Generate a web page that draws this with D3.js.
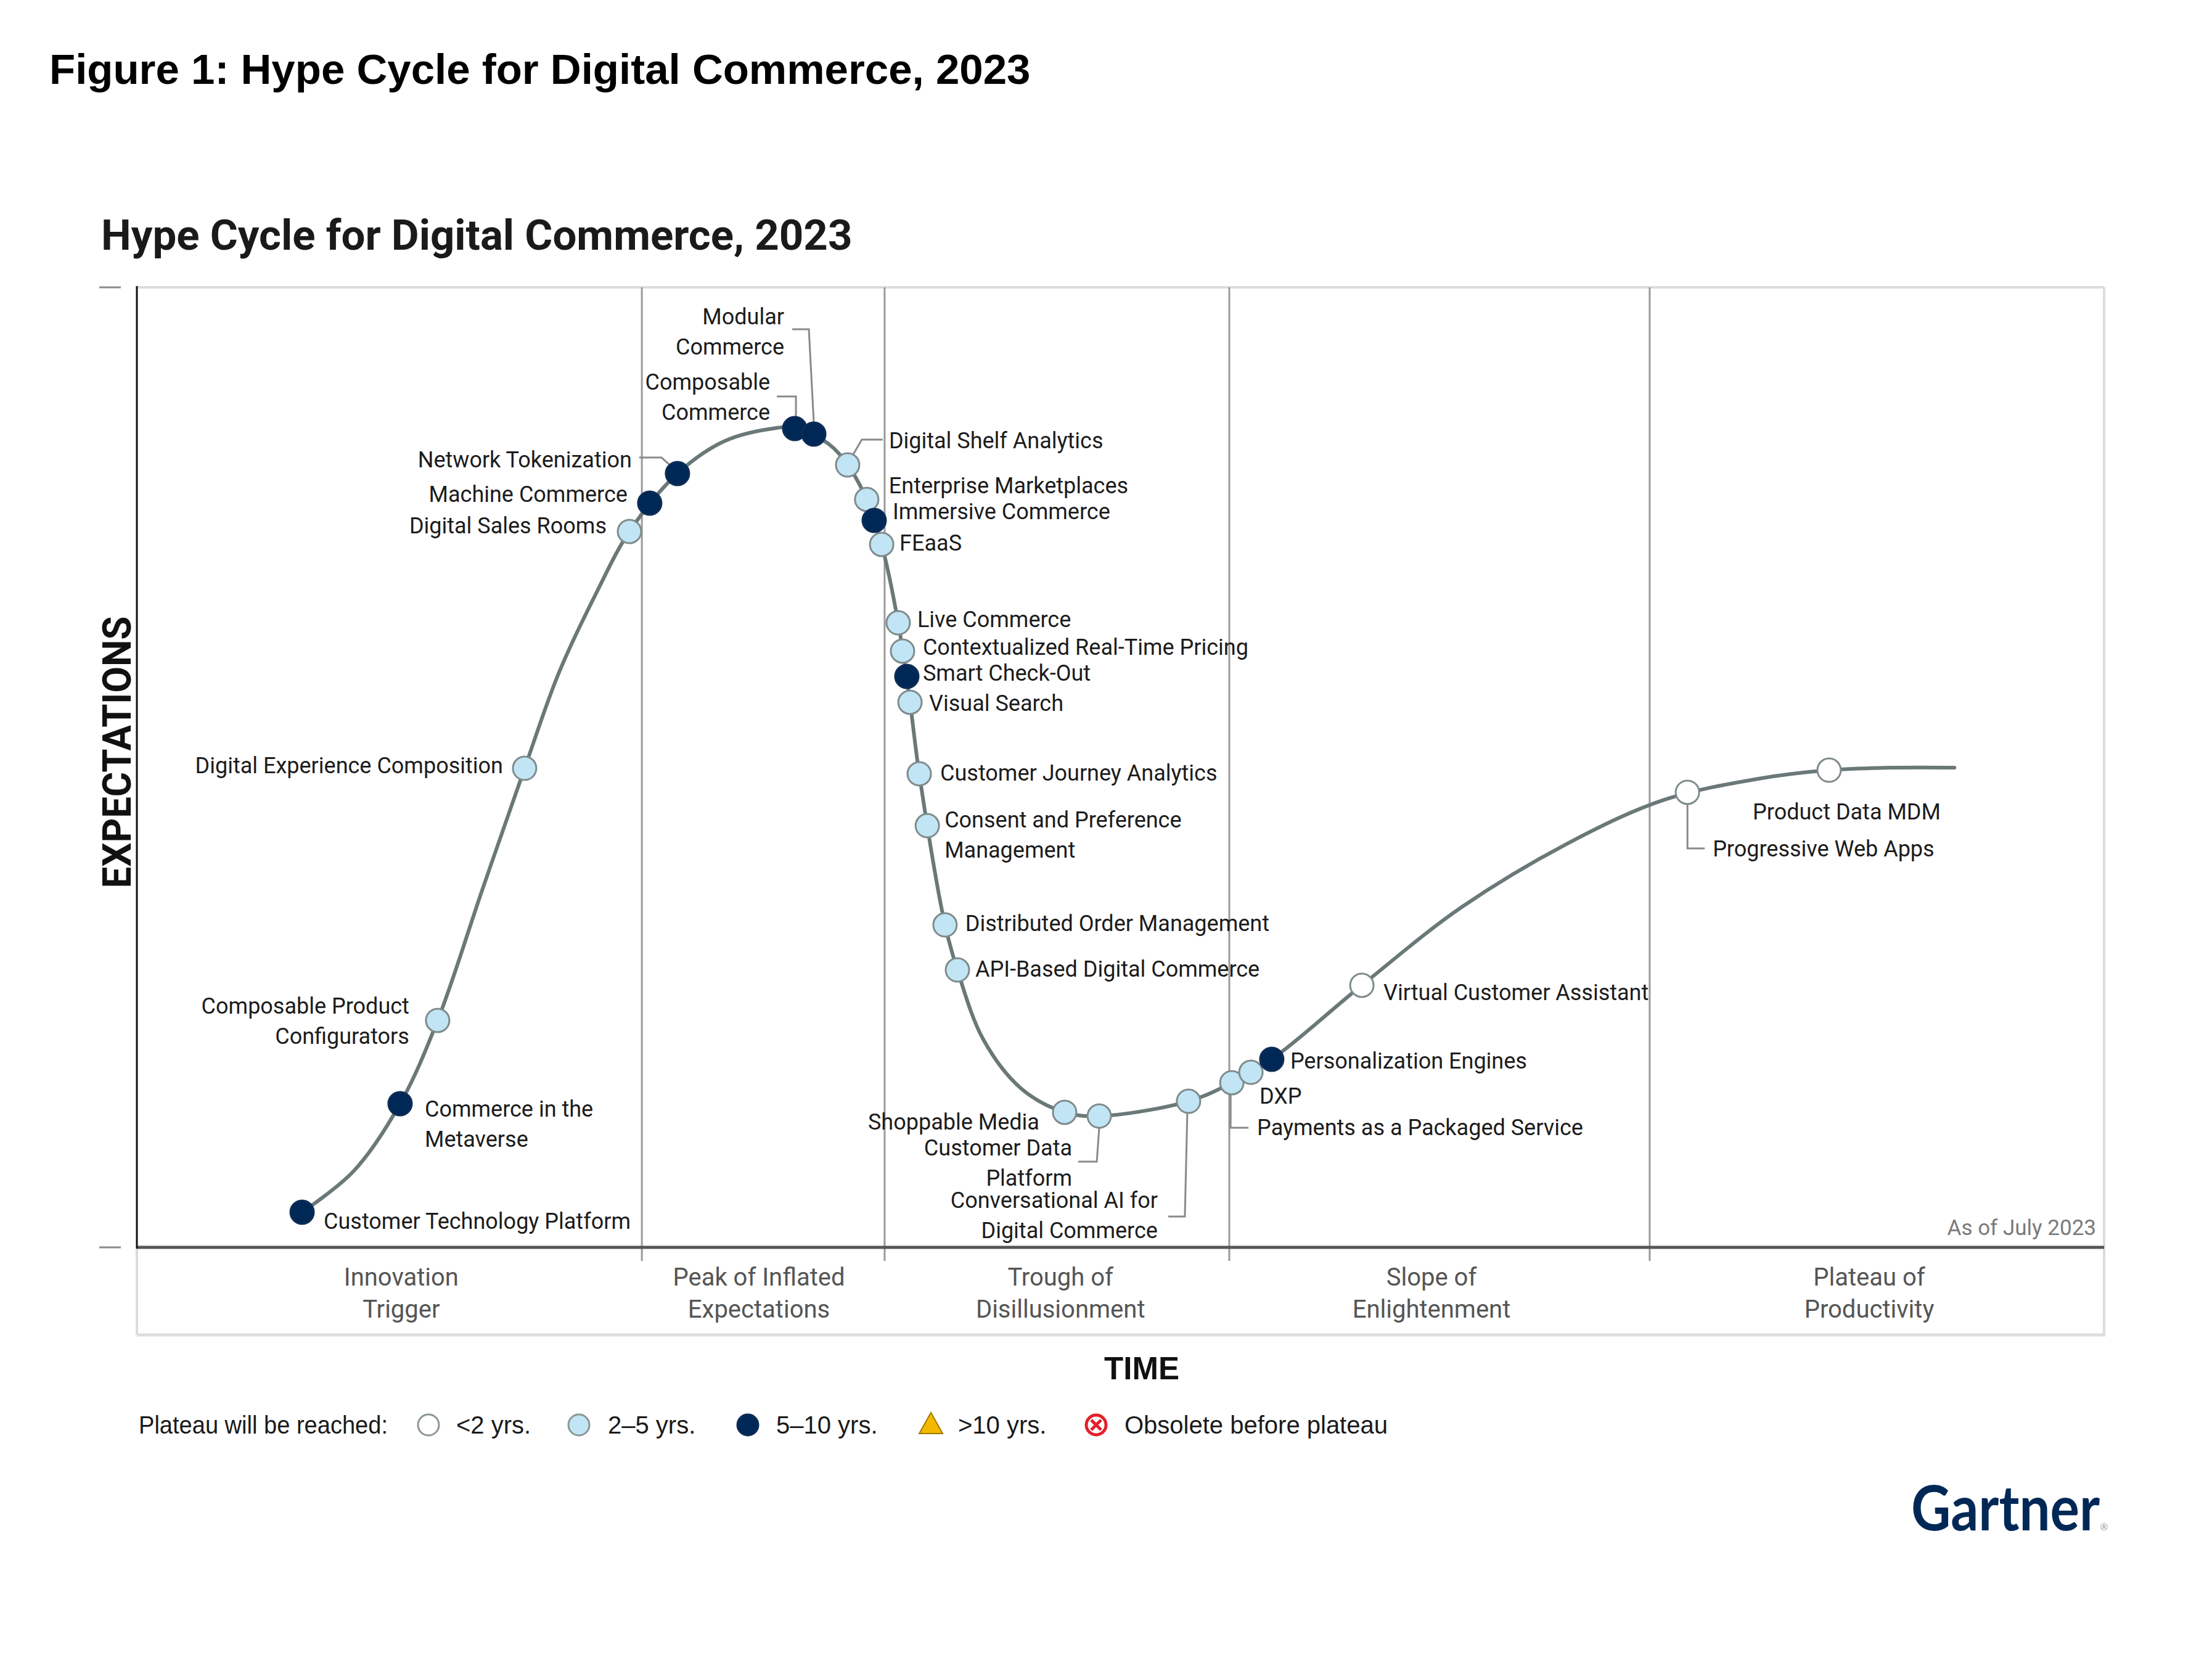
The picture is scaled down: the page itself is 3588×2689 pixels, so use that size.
<!DOCTYPE html>
<html><head><meta charset="utf-8">
<script src="https://cdn.jsdelivr.net/npm/d3@7"></script>
<style>html,body{margin:0;padding:0;background:#fff;}svg{display:block;}</style>
</head><body>
<script>
// ---------------- DATA ----------------
const phaseLabels = [["Innovation","Trigger"],["Peak of Inflated","Expectations"],["Trough of","Disillusionment"],["Slope of","Enlightenment"],["Plateau of","Productivity"]];
const phaseBounds = [25.67, 38.01, 55.53, 76.90];
const phaseLabelX = [13.44, 31.62, 46.95, 65.81, 88.06];

const techNames = ["Customer Technology Platform","Commerce in the Metaverse","Composable Product Configurators","Digital Experience Composition","Digital Sales Rooms","Machine Commerce","Network Tokenization","Composable Commerce","Modular Commerce","Digital Shelf Analytics","Enterprise Marketplaces","Immersive Commerce","FEaaS","Live Commerce","Contextualized Real-Time Pricing","Smart Check-Out","Visual Search","Customer Journey Analytics","Consent and Preference Management","Distributed Order Management","API-Based Digital Commerce","Shoppable Media","Customer Data Platform","Conversational AI for Digital Commerce","Payments as a Packaged Service","DXP","Personalization Engines","Virtual Customer Assistant","Progressive Web Apps","Product Data MDM"];
const techTime   = [8.40,13.38,15.29,19.71,25.04,26.07,27.48,33.44,34.41,36.13,37.10,37.48,37.86,38.70,38.92,39.14,39.30,39.77,40.18,41.08,41.71,47.16,48.92,53.46,55.66,56.63,57.69,62.27,78.82,86.02];
const techExpect = [3.66,14.96,23.64,49.90,74.57,77.52,80.60,85.29,84.71,81.50,77.91,75.72,73.22,65.06,62.11,59.47,56.78,49.33,43.93,33.59,28.90,14.07,13.68,15.22,17.15,18.24,19.59,27.30,47.40,49.71];
const techPlateau = ["5-10","5-10","2-5","2-5","2-5","5-10","5-10","5-10","5-10","2-5","2-5","5-10","2-5","2-5","2-5","5-10","2-5","2-5","2-5","2-5","2-5","2-5","2-5","2-5","2-5","2-5","5-10","<2","<2","<2"];

const curveTime   = [8.40,11.03,13.38,15.29,17.55,19.71,21.44,23.38,25.04,27.48,29.90,32.53,33.40,35.16,36.13,37.10,37.86,38.70,39.30,39.77,41.08,41.71,43.03,44.97,47.16,48.92,53.46,55.66,57.69,62.27,67.35,72.96,77.66,82.42,86.02,89.35,92.39];
const curveExpect = [3.66,7.96,14.96,23.64,37.19,49.90,59.79,68.27,74.57,80.60,84.01,85.36,85.40,83.69,81.50,77.91,73.22,65.06,56.78,49.33,33.59,28.90,21.64,16.51,14.07,13.68,15.22,17.15,19.59,27.30,35.45,42.32,46.63,48.81,49.71,49.97,49.97];

const legendKeys   = ["<2","2-5","5-10",">10","obsolete"];
const legendLabels = ["<2 yrs.","2\u20135 yrs.","5\u201310 yrs.",">10 yrs.","Obsolete before plateau"];

// ---------------- LAYOUT (label placement, px relative to dot) ----------------
const labelLayout = {
 "Customer Technology Platform":{dx:35,dy:15,a:"start",lines:["Customer Technology Platform"]},
 "Commerce in the Metaverse":{dx:40,dy:9,a:"start",lines:["Commerce in the","Metaverse"]},
 "Composable Product Configurators":{dx:-46,dy:-23,a:"end",lines:["Composable Product","Configurators"]},
 "Digital Experience Composition":{dx:-35,dy:-4,a:"end",lines:["Digital Experience Composition"]},
 "Digital Sales Rooms":{dx:-37,dy:-9,a:"end",lines:["Digital Sales Rooms"]},
 "Machine Commerce":{dx:-36,dy:-14,a:"end",lines:["Machine Commerce"]},
 "Network Tokenization":{dx:-74,dy:-22,a:"end",lines:["Network Tokenization"],leader:[[-62,-26],[-26,-26],[-10,-12]]},
 "Composable Commerce":{dx:-40,dy:-75,a:"end",lines:["Composable","Commerce"],leader:[[-29,-52],[2,-52],[2,-19]]},
 "Modular Commerce":{dx:-48,dy:-190,a:"end",lines:["Modular","Commerce"],leader:[[-35,-170],[-8,-170],[0,-19]]},
 "Digital Shelf Analytics":{dx:67,dy:-39,a:"start",lines:["Digital Shelf Analytics"],leader:[[9,-17],[23,-41],[57,-41]]},
 "Enterprise Marketplaces":{dx:36,dy:-22,a:"start",lines:["Enterprise Marketplaces"]},
 "Immersive Commerce":{dx:30,dy:-14,a:"start",lines:["Immersive Commerce"]},
 "FEaaS":{dx:29,dy:-2,a:"start",lines:["FEaaS"]},
 "Live Commerce":{dx:31,dy:-5,a:"start",lines:["Live Commerce"]},
 "Contextualized Real-Time Pricing":{dx:33,dy:-6,a:"start",lines:["Contextualized Real-Time Pricing"]},
 "Smart Check-Out":{dx:26,dy:-5,a:"start",lines:["Smart Check-Out"]},
 "Visual Search":{dx:31,dy:2,a:"start",lines:["Visual Search"]},
 "Customer Journey Analytics":{dx:34,dy:-1,a:"start",lines:["Customer Journey Analytics"]},
 "Consent and Preference Management":{dx:28,dy:-9,a:"start",lines:["Consent and Preference","Management"]},
 "Distributed Order Management":{dx:33,dy:-2,a:"start",lines:["Distributed Order Management"]},
 "API-Based Digital Commerce":{dx:29,dy:-1,a:"start",lines:["API-Based Digital Commerce"]},
 "Shoppable Media":{dx:-41,dy:16,a:"end",lines:["Shoppable Media"]},
 "Customer Data Platform":{dx:-44,dy:52,a:"end",lines:["Customer Data","Platform"],leader:[[0,19],[-4,74],[-34,74]]},
 "Conversational AI for Digital Commerce":{dx:-50,dy:161,a:"end",lines:["Conversational AI for","Digital Commerce"],leader:[[-2,19],[-6,187],[-33,187]]},
 "Payments as a Packaged Service":{dx:41,dy:73,a:"start",lines:["Payments as a Packaged Service"],leader:[[-2,19],[-2,73],[27,73]]},
 "DXP":{dx:14,dy:39,a:"start",lines:["DXP"]},
 "Personalization Engines":{dx:30,dy:3,a:"start",lines:["Personalization Engines"]},
 "Virtual Customer Assistant":{dx:35,dy:12,a:"start",lines:["Virtual Customer Assistant"]},
 "Progressive Web Apps":{dx:41,dy:92,a:"start",lines:["Progressive Web Apps"],leader:[[0,19],[0,91],[28,91]]},
 "Product Data MDM":{dx:181,dy:68,a:"end",lines:["Product Data MDM"]}
};

const W = 3588, H = 2689;
const P = {left:222,right:3413,top:466,bottom:2023,strip:2165};
const colors = {"<2":"#ffffff","2-5":"#c2e5f5","5-10":"#002856"};
const strokes = {"<2":"#7f8b8b","2-5":"#7f8b8b","5-10":"#0d2d55"};
const LF = "Roboto, 'Noto Sans', sans-serif";
const AF = "'Liberation Sans', Arial, sans-serif";

const svg = d3.select("body").append("svg").attr("width",W).attr("height",H);
svg.append("rect").attr("width",W).attr("height",H).attr("fill","#fff");

const x = d3.scaleLinear().domain([0,100]).range([P.left,P.right]);
const y = d3.scaleLinear().domain([0,100]).range([P.bottom,P.top]);

// titles
svg.append("text").attr("x",80).attr("y",136).attr("font-family",AF).attr("font-weight",700)
  .attr("font-size",69).attr("fill","#000").text("Figure 1: Hype Cycle for Digital Commerce, 2023");
svg.append("text").attr("x",164).attr("y",405).attr("font-family",LF).attr("font-weight",700)
  .attr("font-size",69).attr("fill","#1a1a1a").text("Hype Cycle for Digital Commerce, 2023");

// frame
const g = svg.append("g");
g.append("line").attr("x1",P.left).attr("x2",P.right).attr("y1",P.top).attr("y2",P.top).attr("stroke","#dcdcdc").attr("stroke-width",4);
g.append("line").attr("x1",P.right).attr("x2",P.right).attr("y1",P.top).attr("y2",P.strip).attr("stroke","#dcdcdc").attr("stroke-width",4);
g.append("line").attr("x1",P.left).attr("x2",P.left).attr("y1",P.bottom).attr("y2",P.strip).attr("stroke","#dcdcdc").attr("stroke-width",4);
g.append("line").attr("x1",P.left).attr("x2",P.right+2).attr("y1",P.strip).attr("y2",P.strip).attr("stroke","#dedede").attr("stroke-width",5);

// phase separators
g.selectAll("line.sep").data(phaseBounds).join("line").attr("class","sep")
  .attr("x1",d=>x(d)).attr("x2",d=>x(d)).attr("y1",P.top).attr("y2",P.bottom+22)
  .attr("stroke","#9a9a9a").attr("stroke-width",3);

// axes
g.append("line").attr("x1",P.left).attr("x2",P.right).attr("y1",P.bottom).attr("y2",P.bottom).attr("stroke","#555").attr("stroke-width",5);
g.append("line").attr("x1",P.left).attr("x2",P.left).attr("y1",P.top-2).attr("y2",P.bottom+2).attr("stroke","#111").attr("stroke-width",3);
[100,0].forEach(v=>{
  g.append("line").attr("x1",161).attr("x2",196).attr("y1",y(v)).attr("y2",y(v)).attr("stroke","#8a8a8a").attr("stroke-width",3);
});

// axis titles
svg.append("text").attr("transform",`translate(212,1220) rotate(-90)`).attr("text-anchor","middle")
  .attr("font-family",LF).attr("font-weight",700).attr("font-size",64).attr("fill","#111")
  .attr("textLength",441).attr("lengthAdjust","spacingAndGlyphs").text("EXPECTATIONS");
svg.append("text").attr("x",1852).attr("y",2219).attr("text-anchor","middle").attr("dominant-baseline","central")
  .attr("font-family",AF).attr("font-weight",700).attr("font-size",51).attr("fill","#111").text("TIME");

// phase labels
phaseLabels.forEach((lines,i)=>{
  const t = svg.append("text").attr("text-anchor","middle").attr("font-family",LF).attr("font-size",40).attr("fill","#555");
  lines.forEach((l,j)=>t.append("tspan").attr("x",x(phaseLabelX[i])).attr("y",2071+j*52).attr("dominant-baseline","central").text(l));
});

svg.append("text").attr("x",3400).attr("y",1991).attr("text-anchor","end").attr("dominant-baseline","central")
  .attr("font-family",LF).attr("font-size",35).attr("fill","#7a7a7a").text("As of July 2023");

// curve
const curvePts = curveTime.map((t,i)=>[t,curveExpect[i]]);
const line = d3.line().x(d=>x(d[0])).y(d=>y(d[1])).curve(d3.curveCatmullRom.alpha(0.5));
svg.append("path").attr("d",line(curvePts)).attr("fill","none").attr("stroke","#6b7878").attr("stroke-width",6).attr("stroke-linecap","round");

const techs = techNames.map((n,i)=>({name:n,t:techTime[i],e:techExpect[i],p:techPlateau[i]}));

// leaders
const lg = svg.append("g");
techs.forEach(d=>{
  const L = labelLayout[d.name];
  if(L && L.leader){
    const cx=x(d.t), cy=y(d.e);
    lg.append("polyline").attr("points",L.leader.map(p=>[cx+p[0],cy+p[1]].join(",")).join(" "))
      .attr("fill","none").attr("stroke","#8a8a8a").attr("stroke-width",3);
  }
});

// dots
svg.append("g").selectAll("circle").data(techs).join("circle")
  .attr("cx",d=>x(d.t)).attr("cy",d=>y(d.e)).attr("r",19)
  .attr("fill",d=>colors[d.p]).attr("stroke",d=>strokes[d.p]).attr("stroke-width",3);

// labels
const tg = svg.append("g").attr("font-family",LF).attr("font-size",36).attr("fill","#1c1c1c");
techs.forEach(d=>{
  const L = labelLayout[d.name]; const cx=x(d.t), cy=y(d.e);
  const t = tg.append("text").attr("text-anchor",L.a);
  L.lines.forEach((l,j)=>t.append("tspan").attr("x",cx+L.dx).attr("y",cy+L.dy+j*49).attr("dominant-baseline","central").text(l));
});

// legend
const ly = 2311;
const legX = {sym:[695,939,1213,1510,1778], txt:[740,986,1259,1554,1824]};
svg.append("text").attr("x",225).attr("y",ly).attr("dominant-baseline","central").attr("font-family",AF)
  .attr("font-size",40).attr("fill","#1a1a1a").attr("textLength",404).attr("lengthAdjust","spacingAndGlyphs").text("Plateau will be reached:");
legendKeys.forEach((k,i)=>{
  const sx = legX.sym[i];
  if(k==="<2"||k==="2-5"||k==="5-10"){
    svg.append("circle").attr("cx",sx).attr("cy",ly).attr("r",17).attr("fill",colors[k])
      .attr("stroke",k==="5-10"?"#0d2d55":"#8c9696").attr("stroke-width",3);
  } else if(k===">10"){
    svg.append("path").attr("d",`M${sx},${ly-20} L${sx+19},${ly+14} L${sx-19},${ly+14} Z`).attr("fill","#f5b800").attr("stroke","#a07a00").attr("stroke-width",2);
  } else {
    svg.append("circle").attr("cx",sx).attr("cy",ly).attr("r",16).attr("fill","#fff").attr("stroke","#e3202b").attr("stroke-width",5);
    svg.append("path").attr("d",`M${sx-8},${ly-8} L${sx+8},${ly+8} M${sx+8},${ly-8} L${sx-8},${ly+8}`).attr("stroke","#e3202b").attr("stroke-width",5);
  }
  svg.append("text").attr("x",legX.txt[i]).attr("y",ly).attr("dominant-baseline","central").attr("font-family",AF)
    .attr("font-size",40).attr("fill","#1a1a1a").text(legendLabels[i]);
});

// logo
svg.append("text").attr("x",3100).attr("y",2482).attr("font-family","Lato, 'Open Sans', sans-serif").attr("font-weight",700)
  .attr("font-size",102).attr("fill","#002856").attr("textLength",306).attr("lengthAdjust","spacingAndGlyphs").text("Gartner");
svg.append("text").attr("x",3407).attr("y",2482).attr("font-family",AF).attr("font-size",16).attr("fill","#8899aa").text("\u00AE");
</script>
</body></html>
